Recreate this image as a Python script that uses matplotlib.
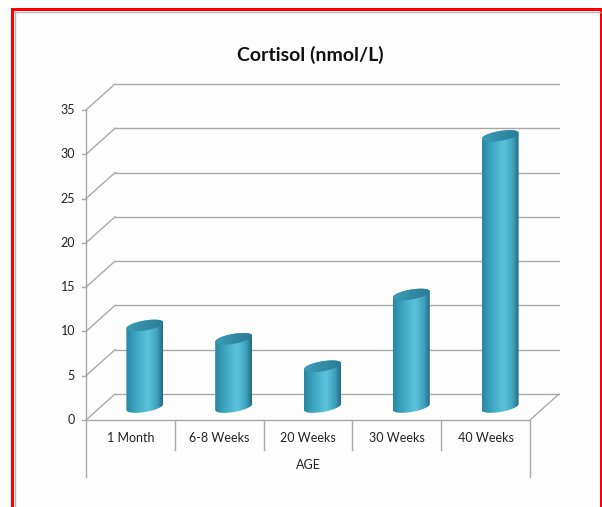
import numpy as np
import matplotlib
matplotlib.use("Agg")
import matplotlib.pyplot as plt
from matplotlib.patches import Polygon, Rectangle
from matplotlib.colors import LinearSegmentedColormap

# Chart data
categories = ["1 Month", "6-8 Weeks", "20 Weeks", "30 Weeks", "40 Weeks"]
cortisol = [9.2, 7.7, 4.6, 12.7, 30.6]
y_ticks = [0, 5, 10, 15, 20, 25, 30, 35]
title = "Cortisol (nmol/L)"
x_title = "AGE"

plt.rcParams["font.family"] = ["Lato", "DejaVu Sans"]

W, H, DPI = 602, 507, 100
fig = plt.figure(figsize=(W / DPI, H / DPI), dpi=DPI)
fig.patch.set_facecolor("white")

# Frame around the chart area
frame_ax = fig.add_axes([0, 0, 1, 1])
frame_ax.set_xlim(0, W)
frame_ax.set_ylim(H, 0)
frame_ax.axis("off")
frame_ax.add_patch(Rectangle((14, 11), 588, 500, facecolor="#fdfdfd", edgecolor="none"))
frame_ax.plot([14.5, 14.5], [11, H], color="#b8b8b8", lw=1)
frame_ax.plot([14, 600], [11.5, 11.5], color="#b8b8b8", lw=1)
frame_ax.add_patch(Rectangle((11, 8), 3, H, facecolor="#ff0000", edgecolor="none"))
frame_ax.add_patch(Rectangle((11, 8), 591, 3, facecolor="#ff0000", edgecolor="none"))
frame_ax.add_patch(Rectangle((600, 8), 1.5, H, facecolor="#ff0000", edgecolor="none"))

# Plot axes: x in category units, y in value units
x0_px, y0_px = 86.0, 420.0
cat_px = 88.8
unit_px = (420.0 - 110.0) / 35.0
ax = fig.add_axes([0, 0, 1, 1])
ax.set_xlim((0 - x0_px) / cat_px, (W - x0_px) / cat_px)
ax.set_ylim((y0_px - H) / unit_px, y0_px / unit_px)
ax.axis("off")

n = len(categories)
DX = 29.0 / cat_px      # depth offset, x
DY = 26.0 / unit_px     # depth offset, y
grid_c = "#a9a9a9"
lw = 1.0
px_to_pt = 72.0 / DPI

# Back wall and side wall gridlines
for v in y_ticks:
    ax.plot([DX, n + DX], [v + DY, v + DY], color=grid_c, lw=lw, zorder=1)
    ax.plot([0, DX], [v, v + DY], color=grid_c, lw=lw, zorder=1)
# Floor outline
ax.plot([0, n], [0, 0], color=grid_c, lw=lw, zorder=1)
ax.plot([n, n + DX], [0, DY], color=grid_c, lw=lw, zorder=1)

# Vertical axis with ticks, extended down through the category table
ax.plot([0, 0], [35, (y0_px - 477) / unit_px], color=grid_c, lw=lw, zorder=1)
ax.plot([n, n], [0, (y0_px - 477) / unit_px], color=grid_c, lw=lw, zorder=1)
for i in range(1, n):
    ax.plot([i, i], [0, (y0_px - 450) / unit_px], color=grid_c, lw=lw, zorder=1)
for v in y_ticks:
    ax.plot([-4 / cat_px, 0], [v, v], color=grid_c, lw=lw, zorder=1)
    ax.annotate(str(v), (0, v), xytext=(-11 * px_to_pt, 0), textcoords="offset points",
                ha="right", va="center", fontsize=9, color="#222222")

for i, c in enumerate(categories):
    ax.text(i + 0.5, (y0_px - 438) / unit_px, c, ha="center", va="center",
            fontsize=9, color="#222222")
ax.text(n / 2, (y0_px - 465) / unit_px, x_title, ha="center", va="center",
        fontsize=9, color="#222222")

fig.text(310 / W, 1 - 55 / H, title, ha="center", va="center",
         fontsize=14, fontweight="bold", color="#111111")

# Cylinders
body_cmap = LinearSegmentedColormap.from_list(
    "body",
    [(0.0, "#2a85a0"), (0.15, "#3399b4"), (0.5, "#55bcd6"),
     (0.62, "#5ac1da"), (0.85, "#3d9fba"), (1.0, "#216a80")])
top_cmap = LinearSegmentedColormap.from_list(
    "top", [(0.0, "#3b9cb6"), (1.0, "#2a7c95")])

a = 18.5 / cat_px
b = 5.0 / unit_px
k = 3.0 / unit_px
t = np.linspace(0, 2 * np.pi, 200)

def ellipse(cx, cy, tt):
    return np.column_stack([cx + a * np.cos(tt), cy + b * np.sin(tt) + k * np.cos(tt)])

grad = np.linspace(0, 1, 256).reshape(1, -1)
for i, val in enumerate(cortisol):
    cx = i + 0.5 + DX / 2
    base = DY / 2
    top = val + DY / 2
    lower = ellipse(cx, base, np.linspace(np.pi, 2 * np.pi, 100))
    upper = ellipse(cx, top, np.linspace(0, np.pi, 100))
    body = Polygon(np.vstack([lower, upper]), closed=True, facecolor="none",
                   edgecolor="none", zorder=3)
    ax.add_patch(body)
    im = ax.imshow(grad, cmap=body_cmap, aspect="auto",
                   extent=[cx - a, cx + a, base - b - k - 0.2, top + b + k + 0.2],
                   origin="lower", zorder=3, interpolation="bilinear")
    im.set_clip_path(body)
    cap = Polygon(ellipse(cx, top, t), closed=True, facecolor="none",
                  edgecolor="none", zorder=4)
    ax.add_patch(cap)
    im2 = ax.imshow(grad, cmap=top_cmap, aspect="auto",
                    extent=[cx - a, cx + a, top - b - k - 0.2, top + b + k + 0.2],
                    origin="lower", zorder=4, interpolation="bilinear")
    im2.set_clip_path(cap)

fig.savefig("out.png", dpi=DPI)
